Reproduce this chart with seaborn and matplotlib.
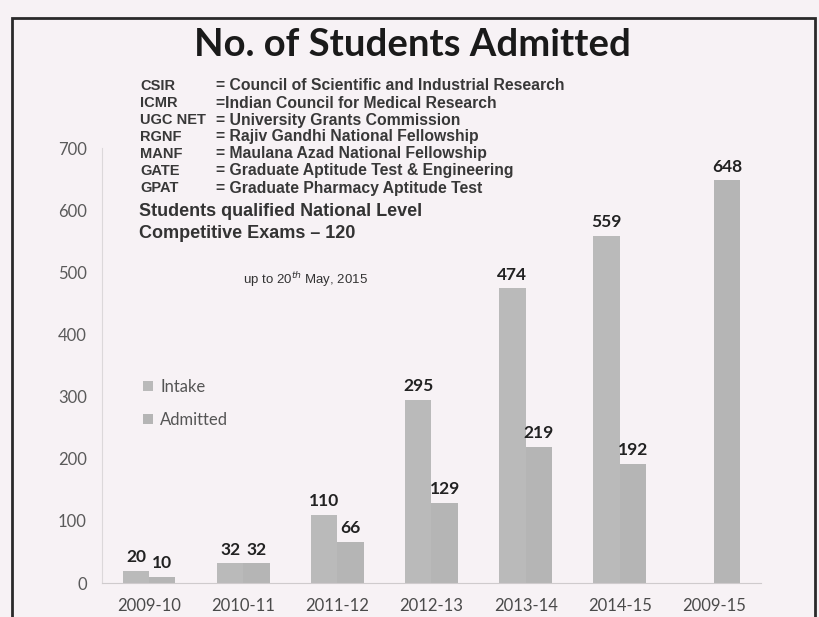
import numpy as np
import pandas as pd
import matplotlib.pyplot as plt
import seaborn as sns
from matplotlib.patches import Rectangle

# values
years = ['2009-10', '2010-11', '2011-12', '2012-13', '2013-14', '2014-15', '2009-15']
intake = [20, 32, 110, 295, 474, 559, np.nan]
admitted = [10, 32, 66, 129, 219, 192, 648]
groups = ['Intake', 'Admitted']

abbrevs = ['CSIR', 'ICMR', 'UGC NET', 'RGNF', 'MANF', 'GATE', 'GPAT']
meanings = ['= Council of Scientific and Industrial Research',
            '=Indian Council for Medical Research',
            '= University Grants Commission',
            '= Rajiv Gandhi National Fellowship',
            '= Maulana Azad National Fellowship',
            '= Graduate Aptitude Test & Engineering',
            '= Graduate Pharmacy Aptitude Test']

bg = '#f7f2f5'
W, H = 820, 617

df = pd.DataFrame({'year': years * 2,
                   'group': ['Intake'] * len(years) + ['Admitted'] * len(years),
                   'count': intake + admitted})

sns.set_style('white')
plt.rcParams['font.family'] = ['Lato', 'DejaVu Sans']

fig = plt.figure(figsize=(8.2, 6.17), dpi=100, facecolor=bg)
ax = fig.add_axes([102 / W, 34 / H, 659 / W, 435 / H])
ax.set_facecolor(bg)

sns.barplot(data=df, x='year', y='count', hue='group', order=years,
            hue_order=groups, palette=['#bababa', '#b5b5b5'], width=0.56,
            saturation=1, errorbar=None, linewidth=0, ax=ax)

for cont in ax.containers:
    labels = ['' if np.isnan(v) else f'{v:.0f}' for v in cont.datavalues]
    ax.bar_label(cont, labels=labels, padding=4, fontsize=12.5,
                 fontweight='bold', color='#222222')

ax.set_ylim(0, 700)
ax.set_yticks(range(0, 701, 100))
ax.set_xlabel('')
ax.set_ylabel('')
ax.tick_params(axis='y', labelsize=12, labelcolor='#5a5a5a',
               colors='#cccccc', length=3, pad=8)
ax.tick_params(axis='x', labelsize=12, labelcolor='#4a4a4a', length=0, pad=11)
for s in ['top', 'right']:
    ax.spines[s].set_visible(False)
ax.spines['left'].set_color('#dcd8da')
ax.spines['bottom'].set_color('#cfcbcd')

handles, lbls = ax.get_legend_handles_labels()
ax.legend(handles, lbls, loc='upper left', frameon=False,
          bbox_to_anchor=(135 / W, 1 - 371 / H), bbox_transform=fig.transFigure,
          handlelength=0.55, handleheight=0.55, handletextpad=0.45,
          labelspacing=1.0, borderpad=0, fontsize=12, labelcolor='#555555')

# slide frame and title
fig.add_artist(Rectangle((12 / W, -0.05), 803 / W, 1.05 - 18 / H,
                         transform=fig.transFigure, fill=False,
                         ec='#2a2a2a', lw=2))
fig.text(412 / W, 1 - 45 / H, 'No. of Students Admitted', ha='center',
         va='center', fontsize=27.5, fontweight='bold', color='#1a1a1a')

# abbreviation block
for i, (a, m) in enumerate(zip(abbrevs, meanings)):
    y = 1 - (86 + 17 * i) / H
    fig.text(140 / W, y, a, va='center', fontsize=10.5, fontweight='bold',
             color='#383838', family=['Liberation Sans'])
    fig.text(216 / W, y, m, va='center', fontsize=11.3, fontweight='bold',
             color='#383838', family=['Liberation Sans'])

fig.text(139 / W, 1 - 212 / H, 'Students qualified National Level',
         va='center', fontsize=13, fontweight='bold', color='#333333',
         family=['Liberation Sans'])
fig.text(139 / W, 1 - 233 / H, 'Competitive Exams \u2013 120',
         va='center', fontsize=13, fontweight='bold', color='#333333',
         family=['Liberation Sans'])
fig.text(243 / W, 1 - 280 / H, 'up to 20$^{th}$ May, 2015', va='center',
         fontsize=9.5, color='#333333', family=['Liberation Sans'])

fig.savefig('out.png', dpi=100, facecolor=bg)
